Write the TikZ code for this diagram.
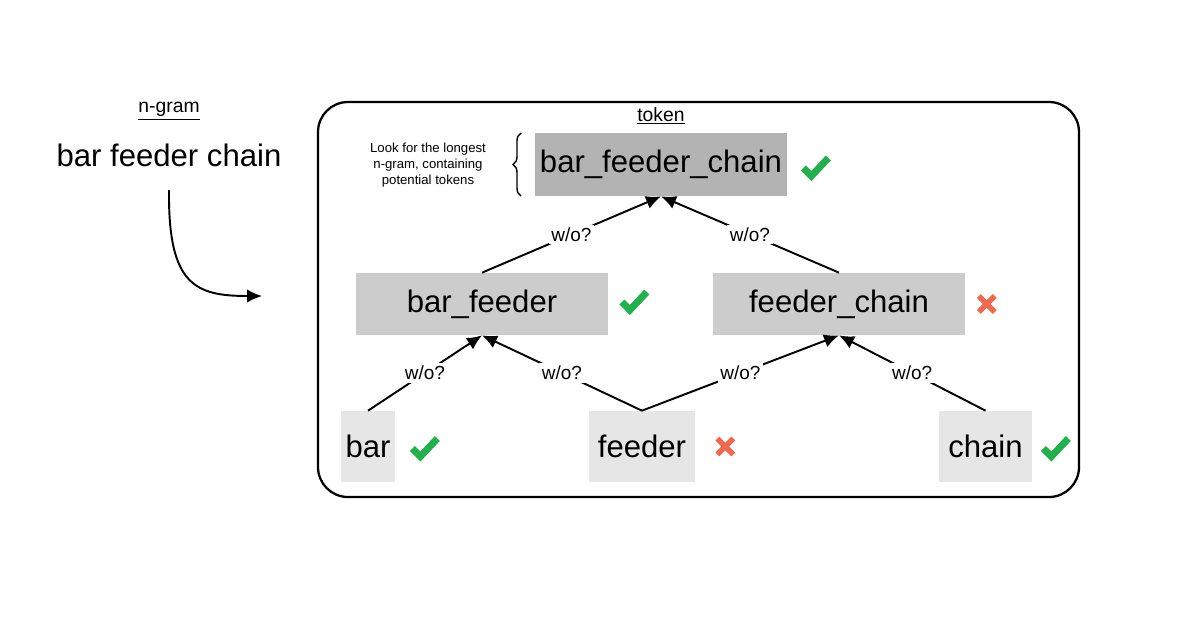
\documentclass[tikz,border=0pt]{standalone}
\usepackage{fontspec}
\setmainfont{Liberation Sans}
\usepackage{tikz}
\usetikzlibrary{shapes.geometric, arrows.meta, positioning, decorations.pathreplacing}
\definecolor{topgray}{RGB}{179,179,179}
\definecolor{midgray}{RGB}{204,204,204}
\definecolor{lowgray}{RGB}{230,230,230}
\definecolor{okgreen}{RGB}{36,174,78}
\definecolor{nored}{RGB}{236,106,82}
\tikzstyle{big} = [font=\fontsize{17.7}{20}\selectfont, text centered, inner sep=0pt]
\tikzstyle{full} = [big, rectangle, fill=topgray, minimum width=5.04cm, minimum height=1.26cm]
\tikzstyle{pair} = [big, rectangle, fill=midgray, minimum width=5.06cm, minimum height=1.24cm]
\tikzstyle{single} = [big, rectangle, fill=lowgray, minimum height=1.42cm]
\tikzstyle{title} = [font=\fontsize{11}{12}\selectfont]
\tikzstyle{ask} = [fill=white, font=\fontsize{10.8}{12}\selectfont, inner sep=1.5pt]
\tikzstyle{arrow} = [-{Latex[length=0.3cm, width=0.27cm]}, line width=1.1pt]
\tikzset{
  pics/okmark/.style={code={\draw[okgreen, line width=0.14cm] (-12,2) -- (-4,10) -- (13,-8);}},
  pics/nomark/.style={code={\draw[nored, line width=0.11cm] (-8,-8) -- (8,8) (-8,8) -- (8,-8);}}
}

\begin{document}
\begin{tikzpicture}[x=0.02cm, y=-0.02cm]
\useasboundingbox (0,0) rectangle (1183,623);
%左侧输入
\node[title] (ngramtitle) at (169,111) {\underline{n-gram}};
\node[big] (ngram) at (169,155) {bar feeder chain};
\coordinate (from) at (169,190);
\coordinate (into) at (262,296);
\draw [arrow] (from) .. controls (168,285) and (195,296) .. (into);
%外框
\draw[line width=1.3pt, rounded corners=0.6cm] (318,102) rectangle (1079,497);
\node[title] (tokentitle) at (661,116) {\underline{token}};
%各层节点
\node[full] (bfc) at (661,164.5) {bar\_feeder\_chain};
\node[pair] (bf) at (482,304) {bar\_feeder};
\node[pair] (fc) at (839,304) {feeder\_chain};
\node[single, minimum width=1.08cm] (bar) at (368,446.5) {bar};
\node[single, minimum width=2.12cm] (feeder) at (642,446.5) {feeder};
\node[single, minimum width=1.86cm] (chain) at (985.5,446.5) {chain};
\pic at ([xshift=0.56cm, yshift=-0.03cm]bfc.east) {okmark};
\pic at ([xshift=0.5cm, yshift=0.08cm]bf.east) {okmark};
\pic at ([xshift=0.42cm]fc.east) {nomark};
\pic at ([xshift=0.58cm]bar.east) {okmark};
\pic at ([xshift=0.6cm]feeder.east) {nomark};
\pic at ([xshift=0.46cm]chain.east) {okmark};
%注释
\draw[line width=0.8pt, decorate, decoration={brace, amplitude=0.16cm}] (521,196) -- (521,133);
\node[font=\fontsize{7.5}{9}\selectfont, align=center] (hint) at (428,165) {Look for the longest\\n-gram, containing\\potential tokens};
%连接
\draw [arrow] (bf.north) -- node[ask] {w/o?} (bfc.south);
\draw [arrow] (fc.north) -- node[ask] {w/o?} (bfc.south);
\draw [arrow] (bar.north) -- node[ask] {w/o?} (bf.south);
\draw [arrow] (feeder.north) -- node[ask] {w/o?} (bf.south);
\draw [arrow] (feeder.north) -- node[ask] {w/o?} (fc.south);
\draw [arrow] (chain.north) -- node[ask] {w/o?} (fc.south);
\end{tikzpicture}
\end{document}
